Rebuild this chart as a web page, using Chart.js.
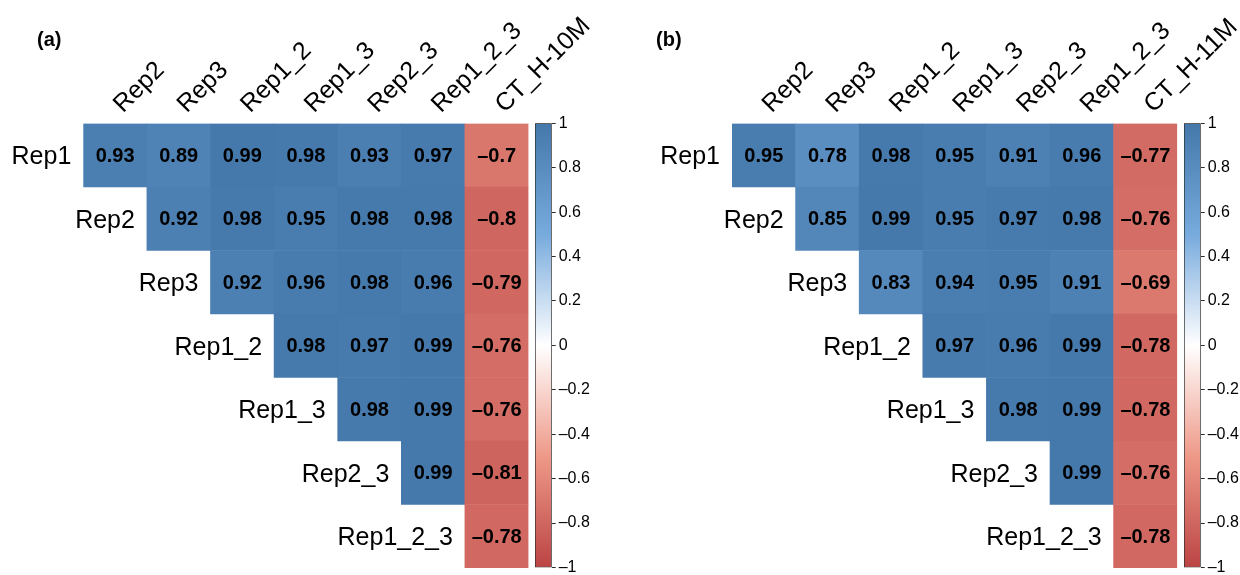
<!DOCTYPE html>
<html>
<head>
<meta charset="utf-8">
<script src="https://cdn.jsdelivr.net/npm/chart.js@4.4.0/dist/chart.umd.min.js"></script>
<style>
  html, body { margin: 0; padding: 0; background: #ffffff; }
  #wrap { position: relative; width: 1240px; height: 575px; overflow: hidden; }
  canvas { position: absolute; top: 0; }
</style>
</head>
<body>
<div id="wrap">
  <canvas id="heatA" width="620" height="575" style="left:0px"></canvas>
  <canvas id="barA" width="80" height="575" style="left:530px"></canvas>
  <canvas id="heatB" width="620" height="575" style="left:620px"></canvas>
  <canvas id="barB" width="61" height="575" style="left:1179px"></canvas>
</div>
<script>
// Row / column names of the correlation matrices
const rowLabels = ['Rep1', 'Rep2', 'Rep3', 'Rep1_2', 'Rep1_3', 'Rep2_3', 'Rep1_2_3'];
const colLabelsA = ['Rep2', 'Rep3', 'Rep1_2', 'Rep1_3', 'Rep2_3', 'Rep1_2_3', 'CT_H-10M'];
const colLabelsB = ['Rep2', 'Rep3', 'Rep1_2', 'Rep1_3', 'Rep2_3', 'Rep1_2_3', 'CT_H-11M'];

// Upper-triangle correlations: row i holds columns i..6
const corrA = [
  [0.93, 0.89, 0.99, 0.98, 0.93, 0.97, -0.7],
  [0.92, 0.98, 0.95, 0.98, 0.98, -0.8],
  [0.92, 0.96, 0.98, 0.96, -0.79],
  [0.98, 0.97, 0.99, -0.76],
  [0.98, 0.99, -0.76],
  [0.99, -0.81],
  [-0.78]
];
const corrB = [
  [0.95, 0.78, 0.98, 0.95, 0.91, 0.96, -0.77],
  [0.85, 0.99, 0.95, 0.97, 0.98, -0.76],
  [0.83, 0.94, 0.95, 0.91, -0.69],
  [0.97, 0.96, 0.99, -0.78],
  [0.98, 0.99, -0.78],
  [0.99, -0.76],
  [-0.78]
];

// Colour key ticks
const legendTicks = [-1, -0.8, -0.6, -0.4, -0.2, 0, 0.2, 0.4, 0.6, 0.8, 1];

// Diverging palette (red -> white -> blue)
const paletteStops = [
  [-1,   [187, 68, 68]],
  [-0.5, [238, 153, 136]],
  [0,    [255, 255, 255]],
  [0.5,  [119, 170, 221]],
  [1,    [68, 119, 170]]
];

const FONT = "'Liberation Sans', Arial, Helvetica, sans-serif";
Chart.defaults.font.family = FONT;
Chart.defaults.color = '#000';

function colorFor(v) {
  for (let i = 0; i < paletteStops.length - 1; i++) {
    const [a, ca] = paletteStops[i];
    const [b, cb] = paletteStops[i + 1];
    if (v >= a && v <= b) {
      const t = (v - a) / (b - a);
      const c = ca.map((x, k) => Math.round(x + (cb[k] - x) * t));
      return `rgb(${c[0]},${c[1]},${c[2]})`;
    }
  }
  return '#fff';
}

function fmt(v) {
  const r = Math.round(v * 100) / 100;
  return (r < 0 ? '\u2013' : '') + String(Math.abs(r));
}

function cellsFrom(corr) {
  const out = [];
  corr.forEach((row, r) => {
    row.forEach((v, j) => {
      const c = r + j;
      out.push({ y: rowLabels[r], x: [c, c + 1], v: v });
    });
  });
  return out;
}

function makeHeatmap(id, cols, corr, tag, pad) {
  const labelsPlugin = {
    id: 'heatLabels',
    afterDatasetsDraw(chart) {
      const ctx = chart.ctx;
      const xs = chart.scales.x, ys = chart.scales.y;
      const area = chart.chartArea;
      ctx.save();
      // values inside cells
      ctx.font = "bold 20px " + FONT;
      ctx.fillStyle = '#000';
      ctx.textAlign = 'center';
      ctx.textBaseline = 'middle';
      const meta = chart.getDatasetMeta(0);
      meta.data.forEach((el, i) => {
        const p = el.getProps(['x', 'base', 'y'], true);
        const raw = chart.data.datasets[0].data[i];
        ctx.fillText(fmt(raw.v), (p.x + p.base) / 2, p.y + 1);
      });
      // row names, right aligned against the first cell of each row
      ctx.font = "25px " + FONT;
      ctx.textAlign = 'right';
      rowLabels.forEach((name, r) => {
        ctx.fillText(name, xs.getPixelForValue(r) - 12, ys.getPixelForValue(r) + 2);
      });
      // column names, rotated 45 degrees above the grid
      ctx.textAlign = 'left';
      ctx.textBaseline = 'alphabetic';
      cols.forEach((name, c) => {
        ctx.save();
        ctx.translate(xs.getPixelForValue(c + 0.5) + 8, area.top - 10);
        ctx.rotate(-Math.PI / 4);
        ctx.fillText(name, 0, 0);
        ctx.restore();
      });
      // panel tag
      ctx.font = "bold 20px " + FONT;
      ctx.textBaseline = 'middle';
      ctx.fillText(tag, pad.tagX, 40);
      ctx.restore();
    }
  };

  return new Chart(document.getElementById(id), {
    type: 'bar',
    data: {
      labels: rowLabels,
      datasets: [{
        data: cellsFrom(corr),
        backgroundColor: (ctx) => ctx.raw ? colorFor(ctx.raw.v) : '#fff',
        borderWidth: 0,
        borderSkipped: false,
        barPercentage: 1,
        categoryPercentage: 1
      }]
    },
    options: {
      indexAxis: 'y',
      responsive: false,
      animation: false,
      events: [],
      layout: { padding: { left: pad.left, right: pad.right, top: 123.5, bottom: 7 } },
      plugins: { legend: { display: false }, tooltip: { enabled: false } },
      scales: {
        x: { type: 'linear', min: 0, max: 7, display: false },
        y: { type: 'category', display: false }
      }
    },
    plugins: [labelsPlugin]
  });
}

function makeColorKey(id, axisWidth) {
  return new Chart(document.getElementById(id), {
    type: 'bar',
    data: {
      labels: ['key'],
      datasets: [{
        data: [[-1, 1]],
        backgroundColor: (ctx) => {
          const area = ctx.chart.chartArea;
          if (!area) return '#fff';
          const g = ctx.chart.ctx.createLinearGradient(0, area.bottom, 0, area.top);
          paletteStops.forEach(([v, c]) => g.addColorStop((v + 1) / 2, `rgb(${c[0]},${c[1]},${c[2]})`));
          return g;
        },
        borderColor: '#2b2b2b',
        borderWidth: 1,
        borderSkipped: false,
        barPercentage: 1,
        categoryPercentage: 1
      }]
    },
    options: {
      responsive: false,
      animation: false,
      events: [],
      layout: { padding: { left: 5, right: 0, top: 123.3, bottom: 7.5 } },
      plugins: { legend: { display: false }, tooltip: { enabled: false } },
      scales: {
        x: { display: false },
        y: {
          position: 'right',
          min: -1, max: 1,
          afterBuildTicks(scale) { scale.ticks = legendTicks.map(v => ({ value: v })); },
          afterFit(scale) { scale.width = axisWidth; scale.paddingTop = 0; scale.paddingBottom = 0; },
          ticks: {
            font: { size: 16, family: FONT },
            color: '#000',
            padding: 3,
            callback: (v) => fmt(v)
          },
          grid: { drawOnChartArea: false, drawTicks: true, tickLength: 4, color: '#2b2b2b', lineWidth: 1 },
          border: { display: false }
        }
      }
    }
  });
}

makeHeatmap('heatA', colLabelsA, corrA, '(a)', { left: 83.3, right: 91.5, tagX: 37 });
makeColorKey('barA', 58.3);
makeHeatmap('heatB', colLabelsB, corrB, '(b)', { left: 112, right: 62.8, tagX: 36 });
makeColorKey('barB', 39.3);
</script>
</body>
</html>
